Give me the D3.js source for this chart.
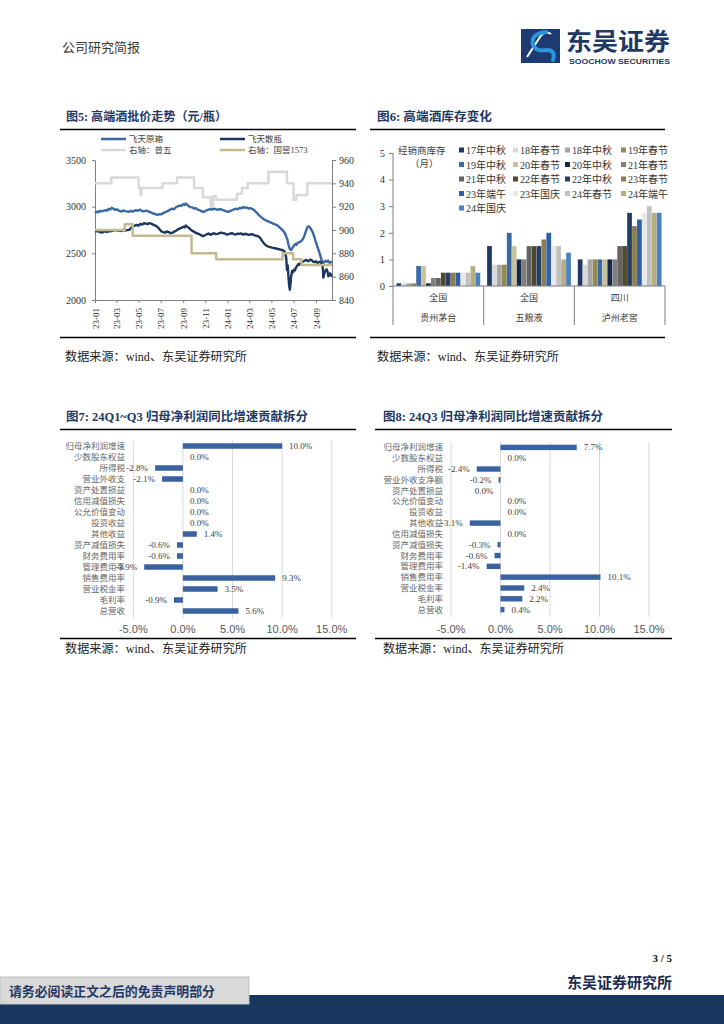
<!DOCTYPE html>
<html><head><meta charset="utf-8">
<script src="https://cdn.jsdelivr.net/npm/d3@7"></script>
<style>body{margin:0;background:#fff}svg{display:block}</style>
</head><body>
<svg id="page" width="724" height="1024"></svg>
<script>
// ---------------- DATA ----------------
// Fig 5: 高端酒批价走势 (left axis: 飞天原箱/飞天散瓶; right axis: 普五/国窖1573)
const feitianBox = [["2023-01-01",2930],["2023-01-06",2948],["2023-01-10",2940],["2023-01-15",2956],["2023-01-20",2950],["2023-01-30",2962],["2023-02-04",2958],["2023-02-08",2978],["2023-02-12",2970],["2023-02-16",2988],["2023-02-21",2978],["2023-02-25",2966],["2023-03-02",2972],["2023-03-06",2960],["2023-03-15",2948],["2023-03-20",2960],["2023-03-25",2952],["2023-04-04",2944],["2023-04-09",2956],["2023-04-14",2948],["2023-04-24",2962],["2023-04-29",2955],["2023-05-04",2968],["2023-05-09",2958],["2023-05-14",2950],["2023-05-24",2958],["2023-05-29",2946],["2023-06-03",2940],["2023-06-08",2930],["2023-06-13",2924],["2023-06-23",2912],["2023-06-28",2920],["2023-07-03",2918],["2023-07-08",2932],["2023-07-13",2940],["2023-07-23",2958],["2023-07-28",2970],["2023-08-02",2978],["2023-08-07",2972],["2023-08-12",2994],["2023-08-17",3004],["2023-08-22",3012],["2023-08-27",3008],["2023-09-01",3026],["2023-09-05",3018],["2023-09-08",3034],["2023-09-12",3020],["2023-09-16",3008],["2023-09-21",2995],["2023-09-26",2992],["2023-10-01",2980],["2023-10-06",2985],["2023-10-11",2968],["2023-10-16",2962],["2023-10-21",2952],["2023-10-26",2944],["2023-10-31",2950],["2023-11-05",2962],["2023-11-10",2968],["2023-11-15",2975],["2023-11-20",2968],["2023-11-25",2978],["2023-12-05",2966],["2023-12-10",2975],["2023-12-15",2970],["2023-12-20",2962],["2023-12-25",2956],["2023-12-30",2948],["2024-01-04",2944],["2024-01-09",2956],["2024-01-14",2962],["2024-01-19",2972],["2024-01-24",2978],["2024-01-29",2972],["2024-02-03",2986],["2024-02-08",2982],["2024-02-13",2996],["2024-02-18",2988],["2024-02-23",2992],["2024-02-28",2980],["2024-03-04",2984],["2024-03-09",2975],["2024-03-14",2966],["2024-03-18",2948],["2024-03-22",2934],["2024-03-26",2915],["2024-03-30",2900],["2024-04-04",2885],["2024-04-08",2872],["2024-04-12",2860],["2024-04-16",2852],["2024-04-20",2846],["2024-04-24",2840],["2024-04-28",2832],["2024-05-02",2826],["2024-05-06",2818],["2024-05-10",2812],["2024-05-14",2806],["2024-05-18",2798],["2024-05-22",2782],["2024-05-26",2770],["2024-05-30",2755],["2024-06-03",2740],["2024-06-06",2722],["2024-06-09",2700],["2024-06-12",2668],["2024-06-14",2650],["2024-06-16",2610],["2024-06-18",2580],["2024-06-20",2555],["2024-06-22",2540],["2024-06-24",2536],["2024-06-26",2545],["2024-06-28",2560],["2024-07-01",2575],["2024-07-04",2592],["2024-07-06",2600],["2024-07-09",2590],["2024-07-12",2612],["2024-07-16",2618],["2024-07-20",2625],["2024-07-24",2640],["2024-07-28",2660],["2024-08-01",2700],["2024-08-04",2735],["2024-08-08",2780],["2024-08-12",2790],["2024-08-15",2778],["2024-08-18",2760],["2024-08-21",2740],["2024-08-24",2715],["2024-08-27",2680],["2024-08-30",2640],["2024-09-02",2605],["2024-09-05",2570],["2024-09-08",2535],["2024-09-11",2500],["2024-09-14",2460],["2024-09-17",2420],["2024-09-20",2408],["2024-09-22",2400],["2024-09-25",2412],["2024-09-28",2420],["2024-10-01",2410],["2024-10-04",2422],["2024-10-07",2405],["2024-10-10",2396],["2024-10-13",2410],["2024-10-15",2405]];
const feitianLoose = [["2023-01-01",2730],["2023-01-06",2740],["2023-01-10",2736],["2023-01-15",2728],["2023-01-20",2722],["2023-01-25",2732],["2023-01-30",2735],["2023-02-04",2728],["2023-02-08",2742],["2023-02-13",2736],["2023-02-18",2740],["2023-02-23",2748],["2023-02-28",2750],["2023-03-05",2742],["2023-03-10",2745],["2023-03-15",2738],["2023-03-20",2752],["2023-03-25",2744],["2023-03-30",2748],["2023-04-04",2752],["2023-04-08",2760],["2023-04-12",2778],["2023-04-16",2790],["2023-04-21",2798],["2023-04-26",2805],["2023-05-01",2796],["2023-05-06",2815],["2023-05-11",2808],["2023-05-16",2822],["2023-05-21",2818],["2023-05-26",2812],["2023-05-31",2824],["2023-06-05",2818],["2023-06-10",2808],["2023-06-15",2800],["2023-06-20",2790],["2023-06-25",2770],["2023-06-29",2752],["2023-07-03",2735],["2023-07-08",2728],["2023-07-13",2722],["2023-07-18",2734],["2023-07-23",2728],["2023-07-28",2716],["2023-08-02",2720],["2023-08-07",2732],["2023-08-12",2740],["2023-08-17",2756],["2023-08-22",2765],["2023-08-27",2772],["2023-09-01",2785],["2023-09-05",2778],["2023-09-08",2798],["2023-09-12",2786],["2023-09-16",2775],["2023-09-21",2756],["2023-09-26",2740],["2023-10-01",2732],["2023-10-06",2718],["2023-10-11",2712],["2023-10-16",2705],["2023-10-21",2692],["2023-10-26",2685],["2023-10-31",2694],["2023-11-05",2705],["2023-11-10",2712],["2023-11-15",2698],["2023-11-20",2708],["2023-11-25",2715],["2023-11-30",2706],["2023-12-05",2708],["2023-12-10",2716],["2023-12-15",2722],["2023-12-20",2716],["2023-12-25",2712],["2023-12-30",2700],["2024-01-04",2705],["2024-01-09",2712],["2024-01-14",2715],["2024-01-19",2706],["2024-01-24",2702],["2024-01-29",2710],["2024-02-03",2708],["2024-02-08",2714],["2024-02-13",2700],["2024-02-18",2710],["2024-02-23",2706],["2024-02-28",2698],["2024-03-04",2702],["2024-03-09",2706],["2024-03-14",2695],["2024-03-19",2690],["2024-03-24",2685],["2024-03-28",2676],["2024-04-01",2662],["2024-04-04",2640],["2024-04-08",2620],["2024-04-12",2600],["2024-04-16",2585],["2024-04-20",2578],["2024-04-24",2570],["2024-04-28",2566],["2024-05-02",2562],["2024-05-06",2558],["2024-05-10",2555],["2024-05-14",2552],["2024-05-18",2548],["2024-05-22",2544],["2024-05-26",2540],["2024-05-30",2536],["2024-06-03",2530],["2024-06-06",2520],["2024-06-08",2505],["2024-06-10",2470],["2024-06-11",2440],["2024-06-13",2320],["2024-06-15",2370],["2024-06-17",2250],["2024-06-19",2150],["2024-06-21",2110],["2024-06-23",2190],["2024-06-24",2240],["2024-06-27",2310],["2024-06-30",2300],["2024-07-02",2325],["2024-07-05",2318],["2024-07-08",2350],["2024-07-11",2365],["2024-07-14",2385],["2024-07-17",2378],["2024-07-20",2395],["2024-07-24",2402],["2024-07-28",2415],["2024-08-01",2422],["2024-08-05",2430],["2024-08-09",2420],["2024-08-12",2415],["2024-08-16",2432],["2024-08-20",2428],["2024-08-24",2412],["2024-08-28",2405],["2024-09-01",2415],["2024-09-05",2398],["2024-09-09",2405],["2024-09-12",2410],["2024-09-15",2396],["2024-09-18",2390],["2024-09-20",2330],["2024-09-21",2240],["2024-09-23",2270],["2024-09-25",2300],["2024-09-28",2315],["2024-09-30",2330],["2024-10-03",2300],["2024-10-05",2255],["2024-10-08",2270],["2024-10-10",2285],["2024-10-13",2262],["2024-10-15",2250]];
const puwu = [["2023-01-01",940],["2023-02-15",945],["2023-05-01",936],["2023-05-06",930],["2023-05-09",936],["2023-07-06",940],["2023-08-15",945],["2023-10-01",936],["2023-10-25",928],["2023-11-16",920],["2023-11-22",929],["2023-11-30",926],["2024-01-27",931],["2024-02-10",936],["2024-02-26",940],["2024-04-23",950],["2024-06-13",940],["2024-07-01",926],["2024-07-09",930],["2024-08-08",940],["2024-10-15",940]];
const guojiao = [["2023-01-01",900],["2023-03-24",905],["2023-04-15",895],["2023-09-24",880],["2023-12-01",875],["2024-06-01",880],["2024-06-30",875],["2024-07-23",870],["2024-10-15",870]];
const fig5LeftTicks = [2000,2500,3000,3500];
const fig5RightTicks = [840,860,880,900,920,940,960];
const fig5XTicks = ["23-01","23-03","23-05","23-07","23-09","23-11","24-01","24-03","24-05","24-07","24-09"];

// Fig 6: 高端酒库存变化
const fig6Groups = ["贵州茅台","五粮液","泸州老窖"];
const fig6Regions = ["全国","全国","四川"];
const fig6Series = ["17年中秋","18年春节","18年中秋","19年春节","19年中秋","20年春节","20年中秋","21年春节","21年中秋","22年春节","22年中秋","23年春节","23年端午","23年国庆","24年春节","24年端午","24年国庆"];
const fig6Colors = ["#1f3864","#d9d9d9","#a6a6a6","#948a54","#3a6aa4","#c9c199","#13284a","#7f7f7f","#646464","#4f4a2e","#243f63","#8b7f4e","#2e60aa","#e8e8e8","#c0c0c0","#b8ad7e","#4a80c4"];
const fig6Moutai = [0.1,0.1,0.1,0.1,0.75,0.75,0.1,0.3,0.3,0.5,0.5,0.5,0.5,0.5,0.5,0.75,0.5];
const fig6Wuliangye = [1.5,0.8,0.8,0.8,2.0,1.5,1.0,1.0,1.5,1.5,1.5,1.75,2.0,1.5,1.5,1.0,1.25];
const fig6Luzhou = [1.0,0.8,1.0,1.0,1.0,1.0,1.0,1.0,1.5,1.5,2.75,2.25,2.5,2.75,3.0,2.75,2.75];
const fig6Ticks = [0,1,2,3,4,5];

// Fig 7 / Fig 8: 归母净利润同比增速贡献拆分 (%)
const fig7Cats = ["归母净利润增速","少数股东权益","所得税","营业外收支","资产处置损益","信用减值损失","公允价值变动","投资收益","其他收益","资产减值损失","财务费用率","管理费用率","销售费用率","营业税金率","毛利率","总营收"];
const fig7Vals = [10.0,0.0,-2.8,-2.1,0.0,0.0,0.0,0.0,1.4,-0.6,-0.6,-3.9,9.3,3.5,-0.9,5.6];
const fig8Cats = ["归母净利润增速","少数股东权益","所得税","营业外收支净额","资产处置损益","公允价值变动","投资收益","其他收益","信用减值损失","资产减值损失","财务费用率","管理费用率","销售费用率","营业税金率","毛利率","总营收"];
const fig8Vals = [7.7,0.0,-2.4,-0.2,-0,0.0,0.0,-3.1,0.0,-0.3,-0.6,-1.4,10.1,2.4,2.2,0.4];
const barTicks = [-5,0,5,10,15];

// ---------------- DRAW ----------------
const svg = d3.select("#page");
const CN = '"Noto Sans CJK SC", sans-serif';
const SERIF = '"Liberation Serif","Noto Sans CJK SC", serif';
const SANS = '"Liberation Sans", Arial, sans-serif';
const NAVY = "#1f3864";
const parse = d3.timeParse("%Y-%m-%d");

function txt(x, y, s, size, opts = {}) {
  const t = svg.append("text").attr("x", x).attr("y", y).text(s)
    .attr("font-size", size).attr("font-family", opts.family || SERIF)
    .attr("fill", opts.fill || "#333").attr("text-anchor", opts.anchor || "start");
  if (opts.weight) t.attr("font-weight", opts.weight);
  if (opts.len) t.attr("textLength", opts.len).attr("lengthAdjust", "spacingAndGlyphs");
  return t;
}
function hline(x1, x2, y, w, c) {
  svg.append("line").attr("x1", x1).attr("x2", x2).attr("y1", y).attr("y2", y)
    .attr("stroke", c || "#000").attr("stroke-width", w);
}

// Header
txt(62, 52, "公司研究简报", 13, {family: CN, fill: "#3a3a3a"});
const logo = svg.append("g");
logo.append("rect").attr("x", 521).attr("y", 29).attr("width", 39).attr("height", 34).attr("fill", "#1c3b72");
logo.append("path").attr("d", "M527 57 L540 37 Q545 30 551 34").attr("fill", "none").attr("stroke", "#ffffff").attr("stroke-width", 2);
logo.append("path").attr("d", "M546 32 Q530 34 533 45 Q536 52 547 50 Q556 50 553 60").attr("fill", "none").attr("stroke", "#2a95dc").attr("stroke-width", 4).attr("stroke-linecap", "round");
txt(566, 50, "东吴证券", 24, {family: CN, fill: NAVY, weight: "bold", len: 104});
txt(569, 63.5, "SOOCHOW SECURITIES", 7.5, {family: SANS, fill: NAVY, weight: "bold", len: 101});

// Titles / rules / sources
function title(x, y, label, s, len) {
  const t = txt(x, y, "", 12, {family: SERIF, fill: NAVY, weight: "bold", len: len});
  t.append("tspan").text(label + "  ");
  t.append("tspan").text(s);
}
title(66, 121, "图5:", "高端酒批价走势（元/瓶）", 161);
title(377, 121, "图6:", "高端酒库存变化", 115);
title(66, 421, "图7:", "24Q1~Q3 归母净利润同比增速贡献拆分", 242);
title(383, 421, "图8:", "24Q3 归母净利润同比增速贡献拆分", 220);
hline(60, 356, 129.5, 1.4); hline(370, 665, 129.5, 1.4);
hline(60, 356, 337.5, 1.4); hline(370, 665, 337.5, 1.4);
hline(60, 356, 429.5, 1.4); hline(375, 672, 429.5, 1.4);
hline(60, 356, 638.5, 1.4); hline(375, 672, 638.5, 1.4);
const SRC = "数据来源：wind、东吴证券研究所";
txt(65, 361, SRC, 12, {family: SERIF, fill: "#222", len: 182});
txt(377, 361, SRC, 12, {family: SERIF, fill: "#222", len: 182});
txt(65, 653, SRC, 12, {family: SERIF, fill: "#222", len: 182});
txt(383, 653, SRC, 12, {family: SERIF, fill: "#222", len: 181});

// ---------- Fig 5 ----------
const x5 = d3.scaleTime().domain([parse("2023-01-01"), parse("2024-10-15")]).range([95, 332]);
const yL = d3.scaleLinear().domain([2000, 3500]).range([300, 160]);
const yR = d3.scaleLinear().domain([840, 960]).range([300, 160]);
function styleAxis(g, size) {
  g.selectAll("path.domain").attr("stroke", "#7f7f7f");
  g.selectAll(".tick line").attr("stroke", "#7f7f7f");
  g.selectAll("text").attr("font-family", SERIF).attr("font-size", size).attr("fill", "#333");
}
const gL = svg.append("g").attr("transform", "translate(95,0)")
  .call(d3.axisLeft(yL).tickValues(fig5LeftTicks).tickFormat(d3.format("d")).tickSize(3).tickSizeOuter(0).tickPadding(6));
styleAxis(gL, 10);
const gR = svg.append("g").attr("transform", "translate(332,0)")
  .call(d3.axisRight(yR).tickValues(fig5RightTicks).tickFormat(d3.format("d")).tickSize(4).tickSizeOuter(0).tickPadding(3));
styleAxis(gR, 10);
const xTickDates = fig5XTicks.map(s => new Date(2000 + +s.slice(0, 2), +s.slice(3) - 1, 1));
const gB = svg.append("g").attr("transform", "translate(0,300)")
  .call(d3.axisBottom(x5).tickValues(xTickDates).tickFormat(d3.timeFormat("%y-%m")).tickSize(3).tickSizeOuter(0));
styleAxis(gB, 9);
gB.selectAll("text").attr("transform", "rotate(-90)").attr("text-anchor", "end")
  .attr("x", -8).attr("y", 0).attr("dy", "0.35em");

const lineL = d3.line().x(d => x5(parse(d[0]))).y(d => yL(d[1])).curve(d3.curveLinear);
const lineR = d3.line().x(d => x5(parse(d[0]))).y(d => yR(d[1])).curve(d3.curveStepAfter);
const fig5Series = [
  {name: "飞天原箱", data: feitianBox, line: lineL, color: "#3a68a3", w: 2.4},
  {name: "飞天散瓶", data: feitianLoose, line: lineL, color: "#1b365f", w: 2.4},
  {name: "右轴：普五", data: puwu, line: lineR, color: "#d9d9d9", w: 2.5},
  {name: "右轴：国窖1573", data: guojiao, line: lineR, color: "#c4ba90", w: 2.5}
];
fig5Series.forEach(s => {
  svg.append("path").datum(s.data).attr("d", s.line).attr("fill", "none")
    .attr("stroke", s.color).attr("stroke-width", s.w).attr("stroke-linejoin", "round");
});
const legPos = [[101, 139], [220, 139], [101, 150], [220, 150]];
fig5Series.forEach((s, i) => {
  const [lx, ly] = legPos[i];
  svg.append("line").attr("x1", lx).attr("x2", lx + 25).attr("y1", ly).attr("y2", ly)
    .attr("stroke", s.color).attr("stroke-width", 2.5);
  txt(lx + 28, ly + 3, s.name, 8.5, {family: SERIF, fill: "#404040"});
});

// ---------- Fig 6 ----------
const x6 = d3.scaleBand().domain(fig6Groups).range([393, 665]).padding(0);
const x6s = d3.scaleBand().domain(fig6Series).range([0, x6.bandwidth()]).paddingInner(0.04).paddingOuter(0.7);
const y6 = d3.scaleLinear().domain([0, 5]).range([286, 153]);
const fig6Values = [fig6Moutai, fig6Wuliangye, fig6Luzhou];
fig6Groups.forEach((g, gi) => {
  fig6Series.forEach((s, si) => {
    const v = fig6Values[gi][si];
    svg.append("rect").attr("x", x6(g) + x6s(s)).attr("y", y6(v))
      .attr("width", x6s.bandwidth()).attr("height", y6(0) - y6(v)).attr("fill", fig6Colors[si]);
  });
});
const g6 = svg.append("g").attr("transform", "translate(393,0)")
  .call(d3.axisLeft(y6).tickValues(fig6Ticks).tickSize(4).tickSizeOuter(0).tickPadding(4).tickFormat(d3.format("d")));
styleAxis(g6, 10.5);
g6.selectAll("path.domain").remove();
svg.append("line").attr("x1", 393).attr("x2", 393).attr("y1", 153).attr("y2", 325).attr("stroke", "#7f7f7f");
svg.append("line").attr("x1", 393).attr("x2", 665).attr("y1", 286).attr("y2", 286).attr("stroke", "#7f7f7f");
fig6Groups.forEach((g, gi) => {
  const xr = x6(g) + x6.bandwidth();
  svg.append("line").attr("x1", xr).attr("x2", xr).attr("y1", 286).attr("y2", 325).attr("stroke", "#7f7f7f");
  const cx = x6(g) + x6.bandwidth() / 2;
  txt(cx, 301, fig6Regions[gi], 9, {family: CN, fill: "#404040", anchor: "middle"});
  txt(cx, 321, g, 9, {family: CN, fill: "#404040", anchor: "middle"});
});
txt(398, 154, "经销商库存", 9.5, {family: CN, fill: "#404040"});
txt(410, 167, "（月）", 9.5, {family: CN, fill: "#404040"});
const legCols = [459, 513, 565, 621];
fig6Series.forEach((s, i) => {
  const cx = legCols[i % 4], cy = 150.5 + Math.floor(i / 4) * 14.5;
  svg.append("rect").attr("x", cx).attr("y", cy - 3).attr("width", 5).attr("height", 5).attr("fill", fig6Colors[i]);
  txt(cx + 7, cy + 3.5, s, 10, {family: SERIF, fill: "#333"});
});

// ---------- Fig 7 / Fig 8 ----------
function barChart(cats, vals, xr, yr, labelX) {
  const x = d3.scaleLinear().domain([-5, 15]).range(xr);
  const y = d3.scaleBand().domain(cats).range(yr).paddingInner(0.5).paddingOuter(0.25);
  barTicks.forEach(t => {
    svg.append("line").attr("x1", x(t)).attr("x2", x(t)).attr("y1", yr[0]).attr("y2", yr[1] + 2)
      .attr("stroke", "#d9d9d9").attr("stroke-width", 1);
    txt(x(t), 633, t.toFixed(1) + "%", 11, {family: SANS, fill: "#595959", anchor: "middle"});
  });
  cats.forEach((c, i) => {
    const v = vals[i];
    const cy = y(c) + y.bandwidth() / 2;
    txt(labelX, cy + 3, c, 8.5, {family: CN, fill: "#666"}).attr("text-anchor", "end");
    svg.append("rect").attr("x", x(Math.min(0, v))).attr("y", y(c))
      .attr("width", Math.abs(x(v) - x(0))).attr("height", y.bandwidth()).attr("fill", "#3a62a0");
    const neg = v < 0 || Object.is(v, -0);
    const lab = Math.abs(v).toFixed(1) === "0.0" ? "0.0%" : v.toFixed(1) + "%";
    txt(neg ? x(v) - 7 : x(v) + 7, cy + 3, lab, 9, {family: SERIF, fill: "#404040", anchor: neg ? "end" : "start"});
  });
}
barChart(fig7Cats, fig7Vals, [133.3, 331.7], [440.5, 616.5], 125);
barChart(fig8Cats, fig8Vals, [451, 649], [442, 615], 443);

// ---------- Footer ----------
txt(672, 962, "3 / 5", 11, {family: SERIF, fill: "#111", weight: "bold", anchor: "end"});
txt(672, 988, "东吴证券研究所", 15, {family: CN, fill: "#1a2c50", weight: "bold", anchor: "end"});
svg.append("rect").attr("x", 0).attr("y", 995).attr("width", 724).attr("height", 29).attr("fill", "#17375e");
svg.append("rect").attr("x", 0).attr("y", 977).attr("width", 249).attr("height", 27).attr("fill", "#d9d9d9").attr("stroke", "#bfbfbf");
txt(9, 996, "请务必阅读正文之后的免责声明部分", 13, {family: CN, fill: NAVY, weight: "bold", len: 206});
</script>
</body></html>
